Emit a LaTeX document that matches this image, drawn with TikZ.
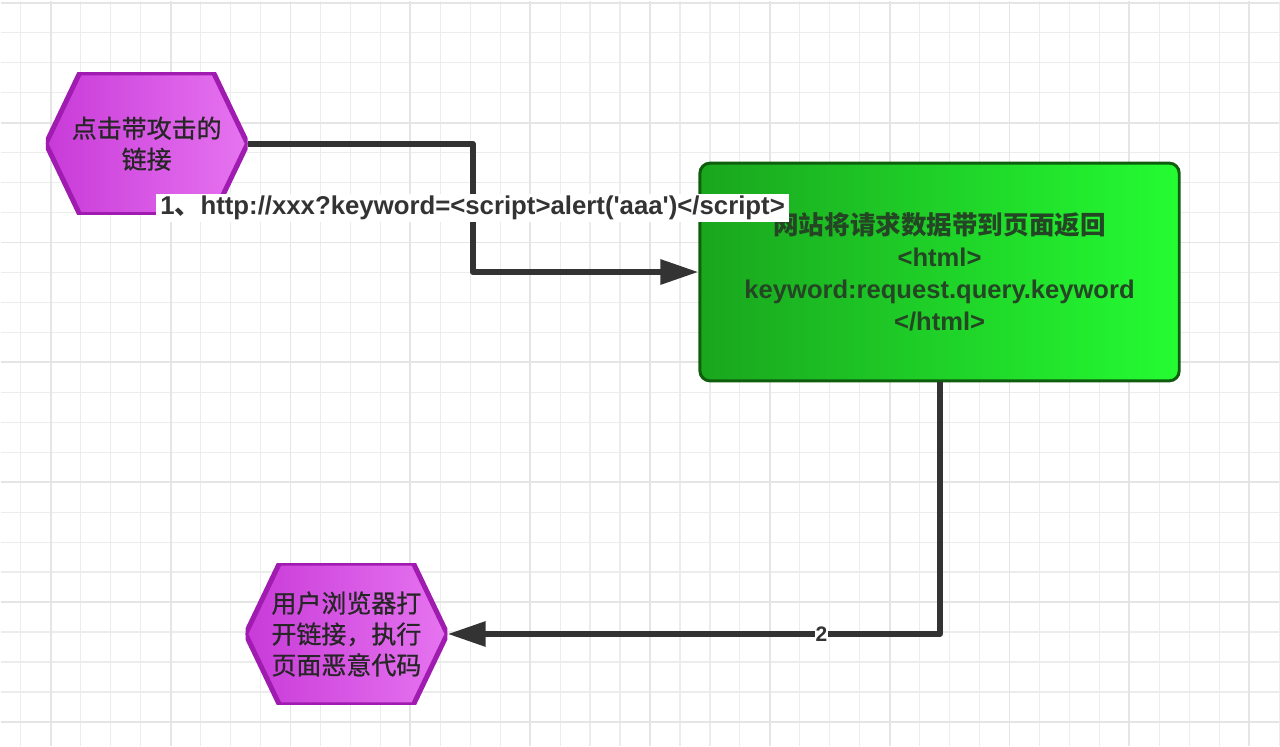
\documentclass[tikz,border=0pt]{standalone}
\usepackage{fontspec}
\setmainfont{Liberation Sans}
\newfontfamily\cjk{Noto Sans CJK SC}
\newfontfamily\cjkhex{Noto Sans CJK SC}[FakeBold=0.8]
\usetikzlibrary{arrows.meta}
\definecolor{hexleft}{RGB}{200,58,216}
\definecolor{hexright}{RGB}{230,116,240}
\definecolor{hexline}{RGB}{160,28,176}
\definecolor{boxleft}{RGB}{26,166,30}
\definecolor{boxright}{RGB}{36,252,50}
\definecolor{boxline}{RGB}{14,94,14}
\definecolor{boxtext}{RGB}{36,70,36}
\definecolor{linegray}{RGB}{51,51,51}
\definecolor{gridmin}{RGB}{236,236,236}
\definecolor{gridmaj}{RGB}{229,229,229}

\begin{document}
\begin{tikzpicture}[x=0.5pt,y=-0.5pt,>={Triangle[length=19pt,width=12pt]},
hexbox/.style={minimum width=101pt,minimum height=71pt,inner sep=0pt,align=center,
  font=\cjkhex\fontsize{12.5}{15.5}\selectfont,text=black!85,
  path picture={\filldraw[left color=hexleft,right color=hexright,draw=hexline,line width=2.5pt]
    ([xshift=17pt]path picture bounding box.north west)--([xshift=-17pt]path picture bounding box.north east)
    --(path picture bounding box.east)--([xshift=-17pt]path picture bounding box.south east)
    --([xshift=17pt]path picture bounding box.south west)--(path picture bounding box.west)--cycle;}},
greenbox/.style={draw=boxline,line width=1.5pt,rounded corners=5pt,left color=boxleft,right color=boxright,
  minimum width=240pt,minimum height=109pt,align=center,text=boxtext,
  font=\bfseries\fontsize{12.8}{16}\selectfont},
wire/.style={draw=linegray,line width=3pt,line join=round,->},
tag/.style={fill=white,text=black!80,inner xsep=2pt,inner ysep=1pt,
  font=\bfseries\fontsize{12.9}{15}\selectfont}]
\fill[white] (0,0) rectangle (1280,746);
\foreach \gx in {20,50,...,1280} \draw[gridmin,line width=0.6pt] (\gx,0)--(\gx,746);
\foreach \gy in {2,32,...,746} \draw[gridmin,line width=0.6pt] (0,\gy)--(1280,\gy);
\foreach \gx in {50,170,...,1250} \draw[gridmaj,line width=0.9pt] (\gx,0)--(\gx,746);
\foreach \gy in {2,122,...,722} \draw[gridmaj,line width=0.9pt] (0,\gy)--(1280,\gy);
\useasboundingbox (0,0) rectangle (1280,746);

\node[hexbox] (attack) at (146,143) {点击带攻击的\\链接};
\node[greenbox] (site) at (940,271.5) {{\cjk 网站将请求数据带到页面返回}\\<html>\\keyword:request.query.keyword\\</html>};
\node[hexbox] (victim) at (346,634) {用户浏览器打\\开链接，执行\\页面恶意代码};
\draw[wire] (attack.east)--++(225,0)|-node[pos=.25,tag]{1{\cjk 、}http://xxx?keyword=<script>alert(\textquotesingle aaa\textquotesingle)</script>}(site.west);
\draw[wire] (site.south)|-node[pos=.62,tag,inner sep=.5pt,font=\bfseries\fontsize{10.5}{12}\selectfont]{2}(victim.east);
\end{tikzpicture}
\end{document}
